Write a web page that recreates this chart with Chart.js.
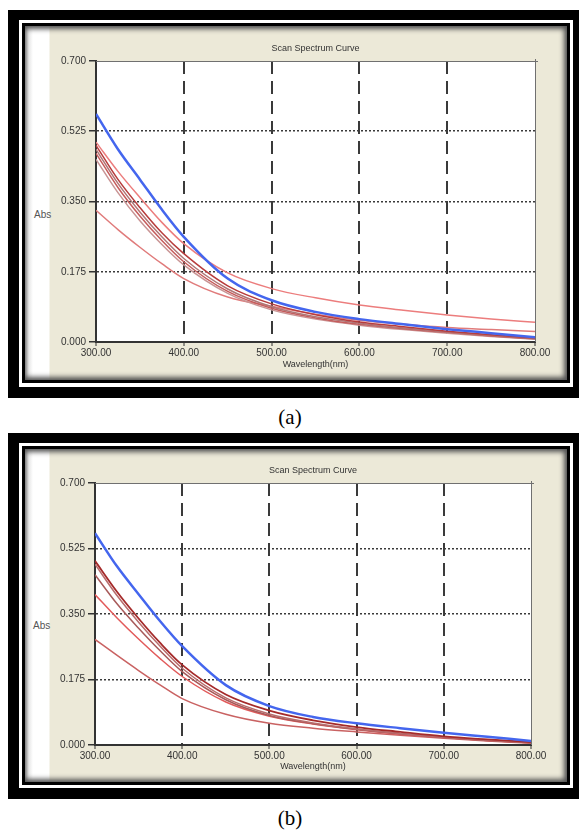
<!DOCTYPE html>
<html>
<head>
<meta charset="utf-8">
<script src="https://cdn.jsdelivr.net/npm/chart.js@4.4.0/dist/chart.umd.min.js"></script>
<style>
  body { margin: 0; background: #fff; width: 580px; height: 830px; position: relative; overflow: hidden; font-family: 'Liberation Sans', Arial, sans-serif; }
  .box { position: absolute; }
  .outer { background: #000; }
  .gap { background: #fff; }
  .rule { background: #000; }
  .panel {
    background: linear-gradient(to right, #8a8a8a 0px, #e8e8e8 4px, #fff 8px, #fff 24px, #ece9d8 25px);
    box-shadow: inset 0 6px 5px -3px #555, inset -6px 0 5px -3px #555, inset 0 -6px 5px -3px #555;
  }
  .abs { position: absolute; font-size: 10px; color: #555; }
  .caption { position: absolute; left: 0; width: 580px; text-align: center; font-family: 'Liberation Serif', 'Times New Roman', serif; font-size: 21px; color: #000; }
  canvas { position: absolute; }
</style>
</head>
<body>
  <!-- panel (a) -->
  <div class="box outer" style="left:8px;top:10px;width:571px;height:388px"></div>
  <div class="box gap" style="left:19px;top:20px;width:554px;height:367px"></div>
  <div class="box rule" style="left:22px;top:23px;width:548px;height:360px"></div>
  <div class="box panel" style="left:25px;top:26px;width:542px;height:354px"></div>
  <div class="abs" style="left:34px;top:209px">Abs</div>
  <canvas id="chart-a" width="513" height="347" style="left:50px;top:26px"></canvas>
  <div class="caption" style="top:405px">(a)</div>

  <!-- panel (b) -->
  <div class="box outer" style="left:8px;top:433px;width:571px;height:366px"></div>
  <div class="box gap" style="left:19px;top:443px;width:554px;height:345px"></div>
  <div class="box rule" style="left:22px;top:446px;width:548px;height:339px"></div>
  <div class="box panel" style="left:25px;top:449px;width:542px;height:333px"></div>
  <div class="abs" style="left:33px;top:620px">Abs</div>
  <canvas id="chart-b" width="513" height="329" style="left:50px;top:449px"></canvas>
  <div class="caption" style="top:806px">(b)</div>

<script>
// wavelengths (nm) shared by all curves
const waves = [300, 325, 350, 375, 400, 450, 500, 550, 600, 650, 700, 750, 800];
const xTicks = [300, 400, 500, 600, 700, 800];
const yTicks = [0, 0.175, 0.35, 0.525, 0.7];

// panel (a) absorbance curves
const blueA = [0.568, 0.480, 0.405, 0.330, 0.262, 0.158, 0.104, 0.075, 0.057, 0.044, 0.032, 0.022, 0.012];
const redA1 = [0.498, 0.425, 0.360, 0.298, 0.245, 0.172, 0.133, 0.110, 0.092, 0.079, 0.067, 0.057, 0.049];
const redA2 = [0.490, 0.405, 0.335, 0.272, 0.220, 0.140, 0.095, 0.068, 0.050, 0.038, 0.027, 0.018, 0.010];
const redA3 = [0.480, 0.395, 0.324, 0.262, 0.208, 0.132, 0.088, 0.063, 0.047, 0.035, 0.025, 0.016, 0.009];
const redA4 = [0.470, 0.385, 0.314, 0.253, 0.200, 0.126, 0.084, 0.060, 0.044, 0.033, 0.024, 0.015, 0.008];
const redA5 = [0.455, 0.372, 0.302, 0.243, 0.192, 0.121, 0.080, 0.057, 0.042, 0.031, 0.022, 0.014, 0.007];
const redA6 = [0.328, 0.280, 0.236, 0.195, 0.158, 0.112, 0.089, 0.069, 0.054, 0.044, 0.036, 0.031, 0.026];

// panel (b) absorbance curves
const blueB = [0.566, 0.478, 0.403, 0.330, 0.264, 0.160, 0.104, 0.075, 0.058, 0.045, 0.033, 0.022, 0.011];
const redB1 = [0.492, 0.410, 0.338, 0.272, 0.214, 0.135, 0.092, 0.066, 0.048, 0.035, 0.023, 0.015, 0.008];
const redB2 = [0.483, 0.400, 0.328, 0.263, 0.205, 0.126, 0.083, 0.059, 0.043, 0.031, 0.021, 0.013, 0.007];
const redB3 = [0.455, 0.378, 0.312, 0.251, 0.196, 0.121, 0.079, 0.057, 0.042, 0.030, 0.020, 0.012, 0.006];
const redB4 = [0.402, 0.340, 0.283, 0.230, 0.183, 0.115, 0.077, 0.056, 0.041, 0.029, 0.020, 0.012, 0.006];
const redB5 = [0.282, 0.240, 0.199, 0.160, 0.124, 0.082, 0.058, 0.045, 0.035, 0.026, 0.018, 0.011, 0.005];

Chart.defaults.font.family = "'Liberation Sans', Arial, sans-serif";

function curve(values, color, width) {
  return {
    data: waves.map((w, i) => ({ x: w, y: values[i] })),
    borderColor: color,
    borderWidth: width,
    pointRadius: 0,
    fill: false,
    cubicInterpolationMode: 'monotone'
  };
}

// white plot box with gray top/right edge
const plotBox = {
  id: 'plotBox',
  beforeDraw(chart) {
    const { ctx, chartArea: a } = chart;
    ctx.save();
    ctx.fillStyle = '#fff';
    ctx.fillRect(a.left, a.top, a.right - a.left, a.bottom - a.top);
    ctx.restore();
  },
  beforeDatasetsDraw(chart) {
    const { ctx, chartArea: a } = chart;
    ctx.save();
    ctx.strokeStyle = '#707070';
    ctx.lineWidth = 1;
    ctx.beginPath();
    ctx.moveTo(a.left, a.top + 0.5);
    ctx.lineTo(a.right + 3, a.top + 0.5);
    ctx.moveTo(a.right + 0.5, a.top - 2);
    ctx.lineTo(a.right + 0.5, a.bottom);
    ctx.stroke();
    ctx.restore();
  }
};

function makeChart(id, datasets, box) {
  const inner = (c, n) => (c.index === 0 || c.index === n - 1) ? 'rgba(0,0,0,0)' : '#3a3a3a';
  return new Chart(document.getElementById(id), {
    type: 'line',
    data: { datasets },
    options: {
      responsive: false,
      animation: false,
      events: [],
      layout: { padding: { top: 0, left: 0, right: box.right, bottom: 0 } },
      plugins: {
        legend: { display: false },
        tooltip: { enabled: false },
        title: {
          display: true,
          text: 'Scan Spectrum Curve',
          fullSize: false,
          color: '#333',
          font: { size: 9, weight: 'normal' },
          padding: { top: box.titleTop, bottom: box.titleBottom }
        }
      },
      scales: {
        x: {
          type: 'linear',
          min: 300,
          max: 800,
          afterBuildTicks: s => { s.ticks = xTicks.map(v => ({ value: v })); },
          afterFit: s => { s.height = box.xHeight; },
          ticks: { callback: v => Number(v).toFixed(2), color: '#333', font: { size: 10 }, padding: 1, maxRotation: 0, autoSkip: false },
          grid: { color: c => inner(c, xTicks.length), lineWidth: 2, tickLength: 4, tickColor: '#333', tickWidth: 1 },
          border: { display: true, color: '#333', width: 2, dash: [13, 7] },
          title: { display: true, text: 'Wavelength(nm)', color: '#333', font: { size: 9 }, padding: { top: 0, bottom: box.xTitleBottom } }
        },
        y: {
          min: 0,
          max: 0.7,
          afterBuildTicks: s => { s.ticks = yTicks.map(v => ({ value: v })); },
          afterFit: s => { s.width = box.yWidth; },
          ticks: { callback: v => Number(v).toFixed(3), color: '#333', font: { size: 10 }, padding: 3 },
          grid: { color: c => inner(c, yTicks.length), lineWidth: 1.5, tickLength: 7, tickColor: '#333', tickWidth: 1.5 },
          border: { display: true, color: '#333', width: 2, dash: [2, 2] }
        }
      }
    },
    plugins: [plotBox]
  });
}

makeChart('chart-a', [
  curve(blueA, '#4466ee', 2.5),
  curve(redA1, '#ec7d7d', 1.5),
  curve(redA2, '#b83c3c', 1.5),
  curve(redA3, '#b07676', 1.5),
  curve(redA4, '#c65c5c', 1.5),
  curve(redA5, '#c99494', 1.5),
  curve(redA6, '#e07b7b', 1.5)
], { right: 28, yWidth: 46, xHeight: 31, titleTop: 17.6, titleBottom: 6.6, xTitleBottom: 2.6 });

makeChart('chart-b', [
  curve(blueB, '#4466ee', 2.5),
  curve(redB1, '#a52a2a', 1.8),
  curve(redB2, '#b86c6c', 1.5),
  curve(redB3, '#a85a5a', 1.5),
  curve(redB4, '#e25a5a', 1.5),
  curve(redB5, '#c96262', 1.5)
], { right: 32, yWidth: 45, xHeight: 33, titleTop: 16.6, titleBottom: 6.6, xTitleBottom: 5.6 });
</script>
</body>
</html>
